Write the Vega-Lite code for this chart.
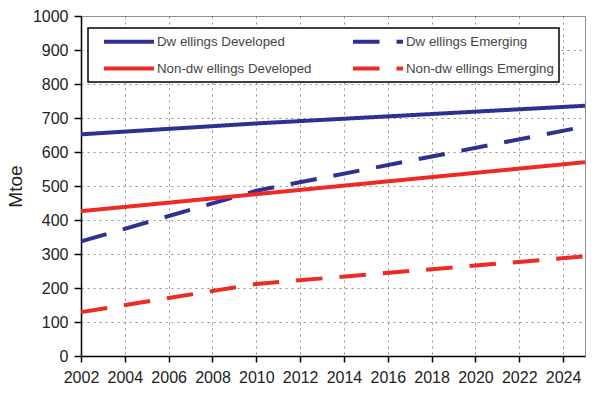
{
  "$schema": "https://vega.github.io/schema/vega-lite/v6.json",
  "width": 504,
  "height": 340,
  "autosize": {"type": "none"},
  "padding": {"left": 81, "top": 16, "right": 15, "bottom": 37},
  "background": "white",
  "config": {
    "view": {"stroke": "#8c8c8c", "strokeWidth": 1},
    "font": "Liberation Sans",
    "axis": {
      "gridDash": [2, 4],
      "gridColor": "#8f8f8f",
      "gridWidth": 1,
      "domainColor": "#000000",
      "domainWidth": 1.5,
      "tickColor": "#000000",
      "tickWidth": 1.5,
      "labelColor": "#222222",
      "labelFont": "Liberation Sans",
      "labelFontSize": 16,
      "titleFont": "Liberation Sans",
      "titleColor": "#222222"
    }
  },
  "data": {
    "values": [
      {"series": "Dw ellings Developed", "year": 2002, "mtoe": 652},
      {"series": "Dw ellings Developed", "year": 2010, "mtoe": 684},
      {"series": "Dw ellings Developed", "year": 2025, "mtoe": 736},
      {"series": "Dw ellings Emerging", "year": 2002, "mtoe": 337},
      {"series": "Dw ellings Emerging", "year": 2010, "mtoe": 486},
      {"series": "Dw ellings Emerging", "year": 2025, "mtoe": 675},
      {"series": "Non-dw ellings Developed", "year": 2002, "mtoe": 426},
      {"series": "Non-dw ellings Developed", "year": 2010, "mtoe": 476},
      {"series": "Non-dw ellings Developed", "year": 2025, "mtoe": 570},
      {"series": "Non-dw ellings Emerging", "year": 2002, "mtoe": 129},
      {"series": "Non-dw ellings Emerging", "year": 2010, "mtoe": 212},
      {"series": "Non-dw ellings Emerging", "year": 2025, "mtoe": 293}
    ]
  },
  "mark": {"type": "line", "strokeWidth": 4, "strokeCap": "butt"},
  "encoding": {
    "x": {
      "field": "year",
      "type": "quantitative",
      "scale": {"domain": [2002, 2025], "nice": false, "zero": false},
      "axis": {
        "values": [2002, 2004, 2006, 2008, 2010, 2012, 2014, 2016, 2018, 2020, 2022, 2024],
        "format": "d",
        "title": null,
        "tickSize": 6,
        "labelPadding": 7,
        "labelFlush": false,
        "labelOverlap": false
      }
    },
    "y": {
      "field": "mtoe",
      "type": "quantitative",
      "scale": {"domain": [0, 1000], "nice": false},
      "axis": {
        "values": [0, 100, 200, 300, 400, 500, 600, 700, 800, 900, 1000],
        "format": "d",
        "title": "Mtoe",
        "titleFontSize": 19,
        "titleFontWeight": "normal",
        "titlePadding": 7,
        "tickSize": 7,
        "labelPadding": 6,
        "labelFlush": false,
        "labelOverlap": false
      }
    },
    "color": {
      "field": "series",
      "type": "nominal",
      "scale": {
        "domain": ["Dw ellings Developed", "Non-dw ellings Developed", "Dw ellings Emerging", "Non-dw ellings Emerging"],
        "range": ["#2e3192", "#ee2a24", "#2e3192", "#ee2a24"]
      },
      "legend": {
        "title": null,
        "orient": "none",
        "legendX": 7,
        "legendY": 12,
        "columns": 2,
        "symbolType": "M-4,0H4",
        "symbolSize": 156,
        "symbolStrokeWidth": 4,
        "symbolOffset": 27.5,
        "labelOffset": 19.5,
        "labelFont": "Liberation Sans",
        "labelFontSize": 13.3,
        "labelColor": "#444444",
        "labelLimit": 300,
        "padding": 5,
        "rowPadding": 10,
        "columnPadding": 30,
        "strokeColor": "#000000",
        "fillColor": "white",
        "cornerRadius": 0,
        "encode": {"legend": {"update": {"strokeWidth": {"value": 1.5}}}}
      }
    },
    "strokeDash": {
      "field": "series",
      "type": "nominal",
      "scale": {
        "domain": ["Dw ellings Developed", "Non-dw ellings Developed", "Dw ellings Emerging", "Non-dw ellings Emerging"],
        "range": [[1, 0], [1, 0], [26.5, 17], [26.5, 17]]
      },
      "legend": {
        "title": null,
        "orient": "none",
        "legendX": 7,
        "legendY": 12,
        "columns": 2,
        "symbolType": "M-4,0H4",
        "symbolSize": 156,
        "symbolStrokeWidth": 4,
        "symbolOffset": 27.5,
        "labelOffset": 19.5,
        "labelFont": "Liberation Sans",
        "labelFontSize": 13.3,
        "labelColor": "#444444",
        "labelLimit": 300,
        "padding": 5,
        "rowPadding": 10,
        "columnPadding": 30,
        "strokeColor": "#000000",
        "fillColor": "white",
        "cornerRadius": 0,
        "encode": {"legend": {"update": {"strokeWidth": {"value": 1.5}}}}
      }
    }
  }
}
